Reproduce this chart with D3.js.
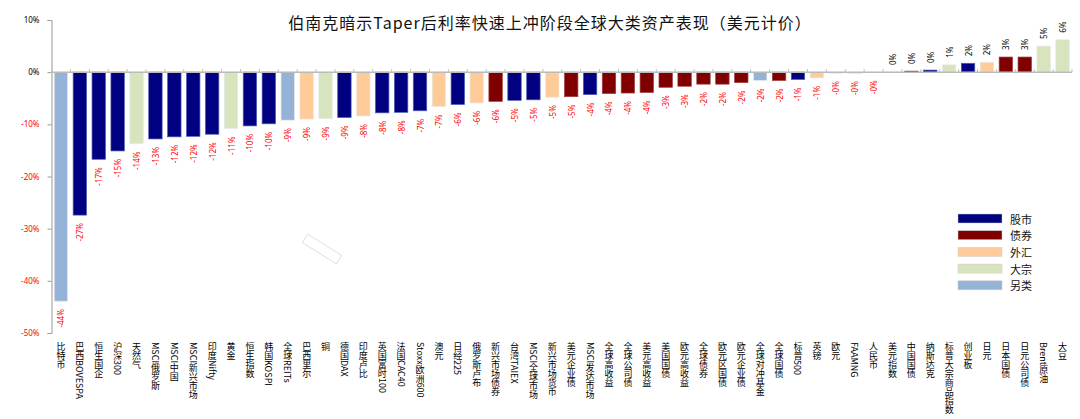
<!DOCTYPE html>
<html><head><meta charset="utf-8">
<script src="https://cdn.jsdelivr.net/npm/d3@7"></script>
<style>
body{margin:0;background:#fff;}
svg{display:block;font-family:"Noto Sans CJK SC","Noto Sans",sans-serif;}
</style></head>
<body><svg id="c" width="1080" height="419"></svg>
<script>
const categories = ["比特币","巴西BOVESPA","恒生国企","沪深300","天然气","MSCI俄罗斯","MSCI中国","MSCI新兴市场","印度Nifty","黄金","恒生指数","韩国KOSPI","全球REITs","巴西里尔","铜","德国DAX","印度卢比","英国富时100","法国CAC40","Stoxx欧洲600","澳元","日经225","俄罗斯卢布","新兴市场债券","台湾TAIEX","MSCI全球市场","新兴市场货币","美元企业债","MSCI发达市场","全球高收益","全球公司债","美元高收益","美国国债","欧元高收益","全球债券","欧元区国债","欧元企业债","全球对冲基金","全球国债","标普500","英镑","欧元","FAAMNG","人民币","美元指数","中国国债","纳斯达克","标普大宗商品指数","创业板","日元","日本国债","日元公司债","Brent原油","大豆"];
const values = [-43.9,-27.4,-16.7,-15.1,-13.7,-12.8,-12.4,-12.3,-11.9,-10.8,-10.3,-9.9,-9.2,-9.0,-8.9,-8.7,-8.4,-7.8,-7.7,-7.4,-6.6,-6.2,-5.9,-5.6,-5.4,-5.3,-4.8,-4.7,-4.3,-4.1,-4.0,-3.9,-2.9,-2.7,-2.3,-2.3,-2.0,-1.6,-1.6,-1.4,-1.1,-0.2,-0.2,-0.03,0.03,0.2,0.4,1.4,1.7,1.9,2.9,2.9,5.0,6.2];
const groups = ["另类","股市","股市","股市","大宗","股市","股市","股市","股市","大宗","股市","股市","另类","外汇","大宗","股市","外汇","股市","股市","股市","外汇","股市","外汇","债券","股市","股市","外汇","债券","股市","债券","债券","债券","债券","债券","债券","债券","债券","另类","债券","股市","外汇","外汇","另类","外汇","外汇","债券","股市","大宗","股市","外汇","债券","债券","大宗","大宗"];
const legendNames = ["股市","债券","外汇","大宗","另类"];
const legendColors = ["#000080","#800000","#FFCC99","#D7E4BD","#95B3D7"];
const yTicks = [10,0,-10,-20,-30,-40,-50];
const title = "伯南克暗示Taper后利率快速上冲阶段全球大类资产表现（美元计价）";

const svg = d3.select("#c");
const color = d3.scaleOrdinal().domain(legendNames).range(legendColors);
const x = d3.scaleBand().domain(categories).range([51.5,1072]).paddingInner(0.29).paddingOuter(0.145);
const y = d3.scaleLinear().domain([-50,10]).range([333,20]);

svg.append("text").attr("x",550).attr("y",29).attr("text-anchor","middle")
  .attr("font-size",16).attr("letter-spacing",1).attr("fill","#111").text(title);

// y axis
const ya = svg.append("g").attr("transform","translate(51.5,0)")
  .call(d3.axisLeft(y).tickValues(yTicks).tickSize(4).tickFormat(d=>d+"%"));
ya.select(".domain").attr("stroke","#999");
ya.selectAll(".tick line").attr("stroke","#999");
ya.selectAll(".tick text").attr("font-size",8).attr("x",-12)
  .attr("fill",d=>d<0?"#FF0000":"#000").attr("font-family","Noto Sans, sans-serif");

// bars
const ix = categories.map((c,i)=>i);
svg.append("g").selectAll("rect").data(ix).join("rect")
  .attr("x",i=>x(categories[i]))
  .attr("width",x.bandwidth())
  .attr("y",i=>Math.min(y(values[i]),y(0)))
  .attr("height",i=>Math.abs(y(values[i])-y(0)))
  .attr("fill",i=>color(groups[i]))
  .attr("stroke",i=>groups[i]==="股市"?"#4a5fb0":(groups[i]==="债券"?"#a04040":"#e8e8e8"))
  .attr("stroke-width",0.7);

// zero line with ticks
const step = x.step();
svg.append("line").attr("x1",51.5).attr("x2",1072).attr("y1",y(0)).attr("y2",y(0))
  .attr("stroke","#bbb").attr("stroke-width",1.5);
svg.append("g").selectAll("line").data(d3.range(categories.length+1)).join("line")
  .attr("x1",i=>51.5+i*step).attr("x2",i=>51.5+i*step)
  .attr("y1",y(0)).attr("y2",y(0)-3).attr("stroke","#bbb");

// value labels
const fmt = v => v<0 ? "-"+Math.round(-v)+"%" : Math.round(v)+"%";
svg.append("g").selectAll("text").data(ix).join("text")
  .attr("transform",i=>{
    const cx = x(categories[i])+x.bandwidth()/2;
    const cy = values[i]<0 ? y(values[i])+8 : y(values[i])-7;
    return `translate(${cx},${cy}) rotate(-90)`;})
  .attr("text-anchor",i=>values[i]<0?"end":"start")
  .attr("dominant-baseline","central")
  .attr("font-size",8).attr("font-family","Noto Sans, sans-serif")
  .attr("fill",i=>values[i]<0?"#FF0000":"#000")
  .text(i=>fmt(values[i]));

// category labels (vertical)
svg.append("g").selectAll("text").data(ix).join("text")
  .attr("x",i=>x(categories[i])+x.bandwidth()/2)
  .attr("y",342)
  .attr("style","writing-mode:vertical-rl;")
  .attr("font-size",9).attr("fill","#000")
  .text(i=>categories[i]);

// stray rotated box
svg.append("rect").attr("x",-20).attr("y",-5).attr("width",40).attr("height",10)
  .attr("transform","translate(322,249) rotate(32)")
  .attr("fill","none").attr("stroke","#e2e2e2").attr("stroke-width",1);

// legend
const lg = svg.append("g");
legendNames.forEach((n,i)=>{
  const yy = 218.5 + i*16.7;
  lg.append("rect").attr("x",958).attr("y",yy-4.5).attr("width",44).attr("height",9)
    .attr("fill",legendColors[i]).attr("stroke","#ccc").attr("stroke-width",0.5);
  lg.append("text").attr("x",1010).attr("y",yy).attr("dominant-baseline","central")
    .attr("font-size",11).attr("fill","#111").text(n);
});
</script></body></html>
